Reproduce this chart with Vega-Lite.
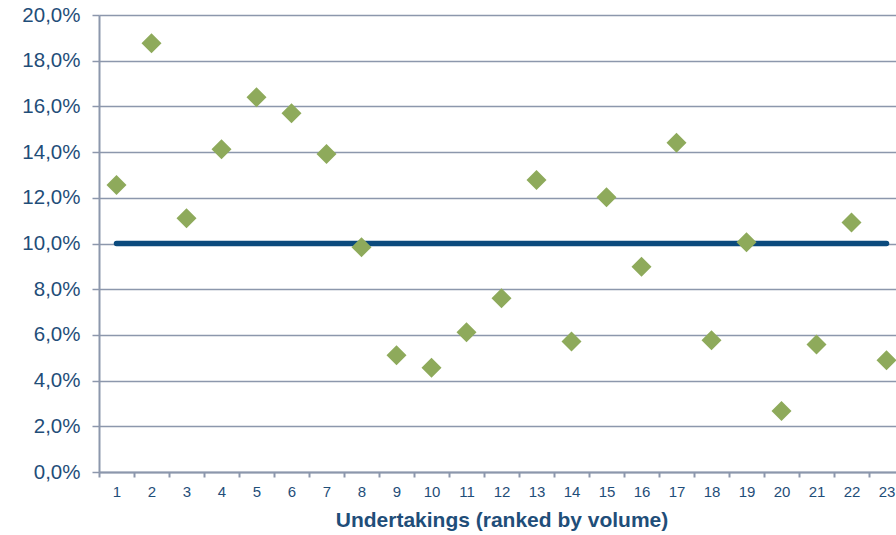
{
  "$schema": "https://vega.github.io/schema/vega-lite/v6.json",
  "width": 797,
  "height": 457,
  "autosize": {"type": "none"},
  "padding": {"left": 99, "top": 15, "right": 0, "bottom": 63},
  "config": {
    "font": "Liberation Sans",
    "view": {"stroke": null}
  },
  "datasets": {
    "undertakings": [
      {"rank": 1, "share": 0.1256},
      {"rank": 2, "share": 0.1876},
      {"rank": 3, "share": 0.1110},
      {"rank": 4, "share": 0.1412},
      {"rank": 5, "share": 0.1640},
      {"rank": 6, "share": 0.1570},
      {"rank": 7, "share": 0.1392},
      {"rank": 8, "share": 0.0984},
      {"rank": 9, "share": 0.0511},
      {"rank": 10, "share": 0.0456},
      {"rank": 11, "share": 0.0612},
      {"rank": 12, "share": 0.0760},
      {"rank": 13, "share": 0.1278},
      {"rank": 14, "share": 0.0571},
      {"rank": 15, "share": 0.1202},
      {"rank": 16, "share": 0.0898},
      {"rank": 17, "share": 0.1441},
      {"rank": 18, "share": 0.0577},
      {"rank": 19, "share": 0.1005},
      {"rank": 20, "share": 0.0267},
      {"rank": 21, "share": 0.0558},
      {"rank": 22, "share": 0.1092},
      {"rank": 23, "share": 0.0489}
    ],
    "threshold": [
      {"rank": 1, "share": 0.10},
      {"rank": 23, "share": 0.10}
    ]
  },
  "encoding": {
    "x": {
      "field": "rank",
      "type": "ordinal",
      "scale": {
        "type": "band",
        "domain": [1, 2, 3, 4, 5, 6, 7, 8, 9, 10, 11, 12, 13, 14, 15, 16, 17, 18, 19, 20, 21, 22, 23],
        "range": [0, 805],
        "paddingInner": 0,
        "paddingOuter": 0
      },
      "axis": {
        "title": "Undertakings (ranked by volume)",
        "tickBand": "extent",
        "labelAngle": 0,
        "grid": false,
        "tickSize": 5,
        "tickWidth": 2,
        "tickColor": "#8C97AC",
        "domainColor": "#8C97AC",
        "domainWidth": 2,
        "labelFontSize": 15,
        "labelColor": "#1F4E79",
        "labelPadding": 7,
        "labelDx": -3,
        "titleFontSize": 21,
        "titleFontWeight": "bold",
        "titleColor": "#1F4E79",
        "titlePadding": 10
      }
    },
    "y": {
      "field": "share",
      "type": "quantitative",
      "scale": {"domain": [0, 0.2], "nice": false},
      "axis": {
        "title": null,
        "values": [0, 0.02, 0.04, 0.06, 0.08, 0.1, 0.12, 0.14, 0.16, 0.18, 0.2],
        "labelExpr": "replace(format(datum.value, '.1%'), '.', ',')",
        "grid": true,
        "gridColor": "#8C97AC",
        "gridWidth": 1.5,
        "tickSize": 7,
        "tickWidth": 1.5,
        "tickColor": "#8C97AC",
        "domainColor": "#8C97AC",
        "domainWidth": 2,
        "labelFontSize": 20.5,
        "labelColor": "#1F4E79",
        "labelPadding": 12
      }
    }
  },
  "layer": [
    {
      "data": {"name": "threshold"},
      "mark": {"type": "line", "color": "#0B4A7D", "strokeWidth": 5.5, "strokeCap": "round"}
    },
    {
      "data": {"name": "undertakings"},
      "mark": {"type": "point", "shape": "diamond", "filled": true, "size": 400, "color": "#8EAA5B", "opacity": 1}
    }
  ]
}
